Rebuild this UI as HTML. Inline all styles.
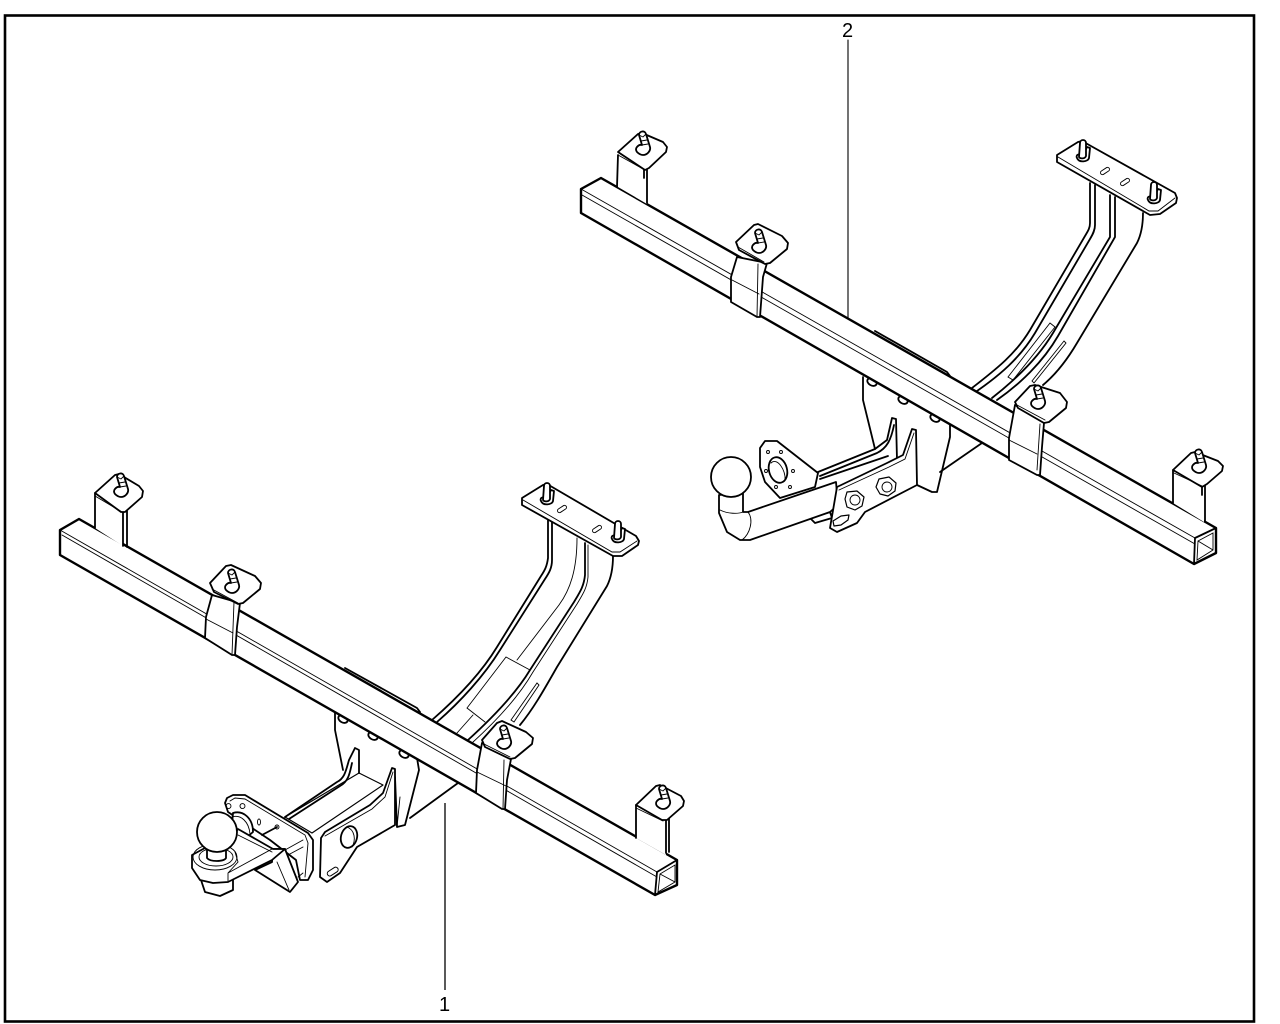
<!DOCTYPE html>
<html><head><meta charset="utf-8"><style>
html,body{margin:0;padding:0;background:#fff}
svg{display:block}
text{font-family:"Liberation Sans",sans-serif;font-size:20px;fill:#000}
.o{fill:none;stroke:#000;stroke-width:1.8;stroke-linejoin:round;stroke-linecap:round}
.w{fill:#fff;stroke:#000;stroke-width:1.8;stroke-linejoin:round;stroke-linecap:round}
.h{fill:#fff;stroke:#000;stroke-width:2.4;stroke-linejoin:round;stroke-linecap:round}
.t{fill:none;stroke:#000;stroke-width:.9;stroke-linecap:round}
.l{fill:none;stroke:#000;stroke-width:1.3}
</style></head><body>
<svg width="1280" height="1024" viewBox="0 0 1280 1024" xmlns="http://www.w3.org/2000/svg">
<defs>
<g id="s1"><path class="w" d="M-5 2C-7-2-1-3 0 1L5-9 8-8 7 2C6 6-3 7-5 2Z"/><path class="w" d="M-3 1L-2-13C-2-17 4-17 4-13L4 0C3 3-2 3-3 1Z"/></g>
<g id="s2"><path class="w" d="M-5 4C-8 0-3-4 0-3L-3-13C-3-17 3-18 4-14L8-1C9 3 5 7 1 7 -1 7-3 6-5 4Z"/><path class="t" d="M-3-13L1-11 4-14M-1-7L5-8M0-3L6-4"/></g>
</defs>
<rect x="0" y="0" width="1280" height="1024" fill="#fff"/>
<rect x="5" y="15.5" width="1249" height="1006" fill="none" stroke="#000" stroke-width="2.6"/>

<!-- ASSEMBLY 1 -->
<path class="l" d="M445 803V990"/>
<!-- arm -->
<path class="o" d="M548 520V558C547 566 545 570 541 576L497 647C480 675 455 700 432 720"/>
<path class="o" d="M552 522V560C552 568 549 573 545 579L500 650C484 676 460 702 437 722"/>
<path class="t" d="M577 538C577 570 570 590 559 605L517 660"/>
<path class="o" d="M585 543V575C584 586 580 592 574 602L530 670C515 695 490 720 468 740"/>
<path class="t" d="M588 545V577C587 588 583 594 577 604L533 672C518 698 493 724 472 743"/>
<path class="o" d="M613 556C613 568 611 578 607 586L557 667C545 688 534 708 520 725"/>
<path class="t" d="M506 657L530 670M506 657L467 708 485 722M457 733L473 715"/>
<path class="t" d="M537 683L539 685 514 722 511 720Z"/>
<!-- back plate -->
<path class="o" d="M335 712V730L343 770"/>
<path class="o" d="M417 758L419 770 405 825 397 827 395 777"/>
<path class="o" d="M410 818L458 783"/>
<path class="t" d="M400 797L397 827"/>
<ellipse class="w" cx="343" cy="719" rx="5" ry="3.5" transform="rotate(30 343 719)"/>
<ellipse class="w" cx="373" cy="736" rx="5" ry="3.5" transform="rotate(30 373 736)"/>
<ellipse class="w" cx="404" cy="754" rx="5" ry="3.5" transform="rotate(30 404 754)"/>
<!-- square tube + fins -->
<path class="w" d="M359 773L383 785 312 833 285 817Z" style="stroke-width:1.2"/>
<path class="o" d="M285 817L337 782C345 778 346 770 349 760L355 748 359 750V773"/>
<path class="o" d="M289 819L340 786C349 781 350 772 352 763"/>
<path class="o" d="M392 768L395 769 395 825 357 847 340 873 327 882 320 877 321 838 325 832 370 805 383 793 392 768Z" style="fill:#fff"/>
<path class="t" d="M325 836L372 809 385 797 393 772"/>
<ellipse class="w" cx="349" cy="837" rx="8" ry="11" transform="rotate(15 349 837)"/>
<path class="t" d="M347 827C355 830 356 840 352 847"/>
<rect class="w" x="327" y="869" width="12" height="5" rx="2.5" transform="rotate(-33 333 872)" style="stroke-width:1"/>
<!-- hitch bracket -->
<path class="w" d="M225 803L227 798 233 795 245 795 308 833 313 840V870L308 880 300 880 296 860 270 840 228 812Z"/>
<path class="t" d="M230 801L235 798 245 799 305 835 308 843 305 877"/>
<path class="t" d="M231 806A2.5 2.5 0 1 0 231 806.1M245 806A2.5 2.5 0 1 0 245 806.1"/>
<ellipse class="t" cx="259" cy="822" rx="1.5" ry="3"/>
<path class="w" d="M233 813C243 810 253 818 253 832L246 838 232 825Z"/>
<path class="t" d="M232 817C241 814 249 822 250 834"/>
<path class="o" d="M262 835L277 827"/>
<ellipse class="t" cx="277" cy="827" rx="2" ry="2"/>
<path class="t" d="M285 850L303 840M288 855L303 847M298 877L303 873"/>
<!-- drawbar -->
<path class="w" d="M255 870L272 862 273 849 285 849 298 882 290 892Z"/>
<path class="t" d="M277 862L289 890"/>
<path class="w" d="M201 880L205 892 220 896 233 890 233 878 210 875Z"/>
<path class="w" d="M192 855V868L200 880 213 883 228 882 272 860 285 849 273 849 238 829 226 846 205 848Z"/>
<path class="t" d="M238 835L272 852M228 873V882M228 873L238 862 235 852M228 873L272 849"/>
<ellipse class="t" cx="215" cy="857" rx="22" ry="13"/>
<ellipse class="t" cx="216" cy="857" rx="17" ry="9"/>
<path class="w" d="M207 848V858C210 862 224 862 226 858V848Z"/>
<circle class="w" cx="217" cy="832" r="20"/>
<!-- beam -->
<path class="h" d="M60 530L79 519 677 860V885L655 895 60 555Z"/>
<path class="t" d="M60 530L657 872M62 535L657 877"/>
<path class="o" d="M657 872L677 860M657 872L655 895"/>
<path class="t" d="M660 874L675 865V882L658 892ZM660 874L675 882"/>
<path class="o" d="M345 668L417 708 420 712"/>
<!-- clips -->
<path class="w" d="M95 493V528L123 546V512Z" style="stroke:none"/>
<path class="o" d="M95 493V528M123 512V546M127 511V547"/>
<path class="w" d="M95 493L115 475 119 474 139 486 143 491 142 497 125 512 121 512Z"/>
<path class="t" d="M95 496L122 512"/>
<use href="#s2" x="120" y="490"/>

<path class="w" d="M212 595L206 617 205 638 232 655 235 655 237 627 240 603Z"/>
<path class="t" d="M206 619L233 633M234 602L232 655"/>
<path class="w" d="M210 583L226 566 231 565 255 576 261 583 260 589 243 603 238 604 214 592Z"/>
<path class="t" d="M212 589L238 603"/>
<use href="#s2" x="231" y="586"/>

<path class="w" d="M482 743L477 770 476 793 502 809 505 809 507 780 511 759Z"/>
<path class="t" d="M477 772L506 786M504 760L503 809"/>
<path class="w" d="M482 740L497 723 502 721 526 732 533 738 532 744 515 758 510 759 485 747Z"/>
<path class="t" d="M484 744L510 757"/>
<use href="#s2" x="503" y="742"/>

<path class="w" d="M636 805V838L666 855V820Z" style="stroke:none"/>
<path class="o" d="M636 805V838M666 820V853M669 818V852"/>
<path class="w" d="M636 805L656 786 660 785 681 796 684 801 683 806 667 820 662 820Z"/>
<path class="t" d="M636 808L663 821"/>
<use href="#s2" x="662" y="802"/>

<path class="w" d="M522 498L543 485 547 484 636 536 639 541 638 545 622 556 613 556 522 505Z"/>
<path class="t" d="M523 500L612 552 620 552 637 541"/>
<use href="#s1" x="546" y="499"/>
<use href="#s1" x="617" y="537"/>
<rect class="t" x="557" y="507" width="10" height="4" rx="2" transform="rotate(-33 562 509)"/>
<rect class="t" x="592" y="527" width="10" height="4" rx="2" transform="rotate(-33 597 529)"/>

<!-- ASSEMBLY 2 -->
<path class="t" d="M848 40V318" style="stroke-width:1.1"/>
<path class="o" d="M1090 183V223C1090 228 1088 231 1085 236L1030 330C1015 355 995 370 972 388"/>
<path class="o" d="M1095 185V225C1095 230 1093 234 1090 239L1035 333C1020 358 1000 375 977 391"/>
<path class="o" d="M1110 195V237L1053 333C1038 358 1015 380 992 398"/>
<path class="o" d="M1115 197V237L1058 336C1043 362 1020 384 997 400"/>
<path class="o" d="M1143 213C1143 225 1141 235 1137 243L1077 343C1067 360 1055 375 1043 385"/>
<path class="t" d="M1050 323L1055 327 1013 380 1008 377Z"/>
<path class="t" d="M1064 341L1066 343 1034 383 1032 381Z"/>

<path class="o" d="M863 377V400L875 449"/>
<path class="o" d="M950 425V437L937 492 932 492 917 485"/>
<path class="o" d="M940 472L982 443"/>
<ellipse class="w" cx="872" cy="382" rx="5" ry="3.5" transform="rotate(30 872 382)"/>
<ellipse class="w" cx="903" cy="400" rx="5" ry="3.5" transform="rotate(30 903 400)"/>
<ellipse class="w" cx="935" cy="418" rx="5" ry="3.5" transform="rotate(30 935 418)"/>
<!-- hitch arm 2 -->
<path class="w" d="M760 448L765 441 777 441 818 473 815 487 780 498 765 482 760 467Z"/>
<ellipse class="w" cx="778" cy="470" rx="9" ry="13" transform="rotate(-15 778 470)"/>
<path class="t" d="M771 463C777 457 786 470 785 480"/>
<circle class="t" cx="768" cy="452" r="1.5"/><circle class="t" cx="781" cy="452" r="1.5"/><circle class="t" cx="793" cy="471" r="1.5"/><circle class="t" cx="766" cy="471" r="1.5"/><circle class="t" cx="776" cy="487" r="1.5"/><circle class="t" cx="790" cy="487" r="1.5"/>
<path class="o" d="M818 472L875 449 887 440 892 418 896 419 897 460"/>
<path class="o" d="M820 476L877 453C887 448 891 440 894 425"/>
<path class="w" d="M810 518L830 512 832 518 815 523Z"/>
<path class="w" d="M743 493V512L748 512 836 482 838 505 830 512 750 540 740 540 727 532 719 513V495Z"/>
<path class="t" d="M720 510C728 514 738 514 743 512M748 512C754 520 750 534 742 540"/>
<circle class="w" cx="731" cy="477" r="20"/>
<path class="w" d="M837 487L887 463 903 455 912 429 916 430 917 485 865 512 857 523 837 532 830 528Z"/>
<path class="t" d="M839 490L889 467 905 459 914 433"/>
<path class="o" d="M820 479L888 456"/>
<path class="w" d="M833 521L841 516 849 515 848 520 841 525 834 526Z" style="stroke-width:1.2"/>
<path class="w" d="M847 492L857 491 864 497 862 506 855 510 847 507 845 499Z" style="stroke-width:1.2"/>
<circle class="t" cx="855" cy="500" r="5"/>
<path class="w" d="M879 479L889 477 896 483 895 491 888 496 880 494 876 487Z" style="stroke-width:1.2"/>
<circle class="t" cx="887" cy="487" r="5"/>
<!-- beam 2 -->
<path class="h" d="M581 189L601 178 1216 528V553L1194 564 581 213Z"/>
<path class="t" d="M581 189L1195 538M582 195L1195 544"/>
<path class="o" d="M1195 538L1216 528M1195 538L1194 564"/>
<path class="t" d="M1198 541L1213 533V550L1197 560ZM1198 541L1213 550"/>
<path class="o" d="M875 331L947 372 950 376"/>
<!-- clips 2 -->
<path class="w" d="M618 152V187L647 204V170Z" style="stroke:none"/>
<path class="o" d="M618 155 617 187M644 170V178M647 170V203"/>
<path class="w" d="M618 152L638 134 642 133 663 142 667 147 666 152 649 168 645 170Z"/>
<path class="t" d="M618 155L645 170"/>
<use href="#s2" x="642" y="148"/>

<path class="w" d="M737 257L731 277 731 302 757 317 760 317 763 277 767 263Z"/>
<path class="t" d="M732 280L759 294M758 264L757 317"/>
<path class="w" d="M736 242L754 225 758 224 782 236 788 243 787 249 770 263 765 264 739 250Z"/>
<path class="t" d="M738 247L764 262"/>
<use href="#s2" x="758" y="246"/>

<path class="w" d="M1015 405L1009 438 1009 460 1037 475 1040 475 1042 447 1044 423Z"/>
<path class="t" d="M1009 440L1037 454M1040 424L1037 470"/>
<path class="w" d="M1015 402L1030 386 1035 385 1060 393 1067 402 1066 408 1049 422 1044 423 1018 408Z"/>
<path class="t" d="M1017 405L1045 420"/>
<use href="#s2" x="1037" y="402"/>

<path class="w" d="M1173 470V503L1204 522V487Z" style="stroke:none"/>
<path class="o" d="M1173 470V503M1202 487V495M1205 485V522"/>
<path class="w" d="M1173 470L1191 453 1195 452 1218 461 1223 466 1222 471 1207 484 1202 487Z"/>
<path class="t" d="M1174 473L1202 486"/>
<use href="#s2" x="1198" y="466"/>

<path class="w" d="M1057 155L1078 142 1082 141 1175 193 1177 198 1176 203 1160 214 1150 215 1057 162Z"/>
<path class="t" d="M1058 157L1149 211 1158 211 1175 198"/>
<use href="#s1" x="1082" y="156"/>
<use href="#s1" x="1153" y="198"/>
<rect class="t" x="1100" y="169" width="10" height="4" rx="2" transform="rotate(-33 1105 171)"/>
<rect class="t" x="1120" y="180" width="10" height="4" rx="2" transform="rotate(-33 1125 182)"/>

<text x="842" y="37">2</text>
<text x="439" y="1011">1</text>
</svg>
</body></html>
